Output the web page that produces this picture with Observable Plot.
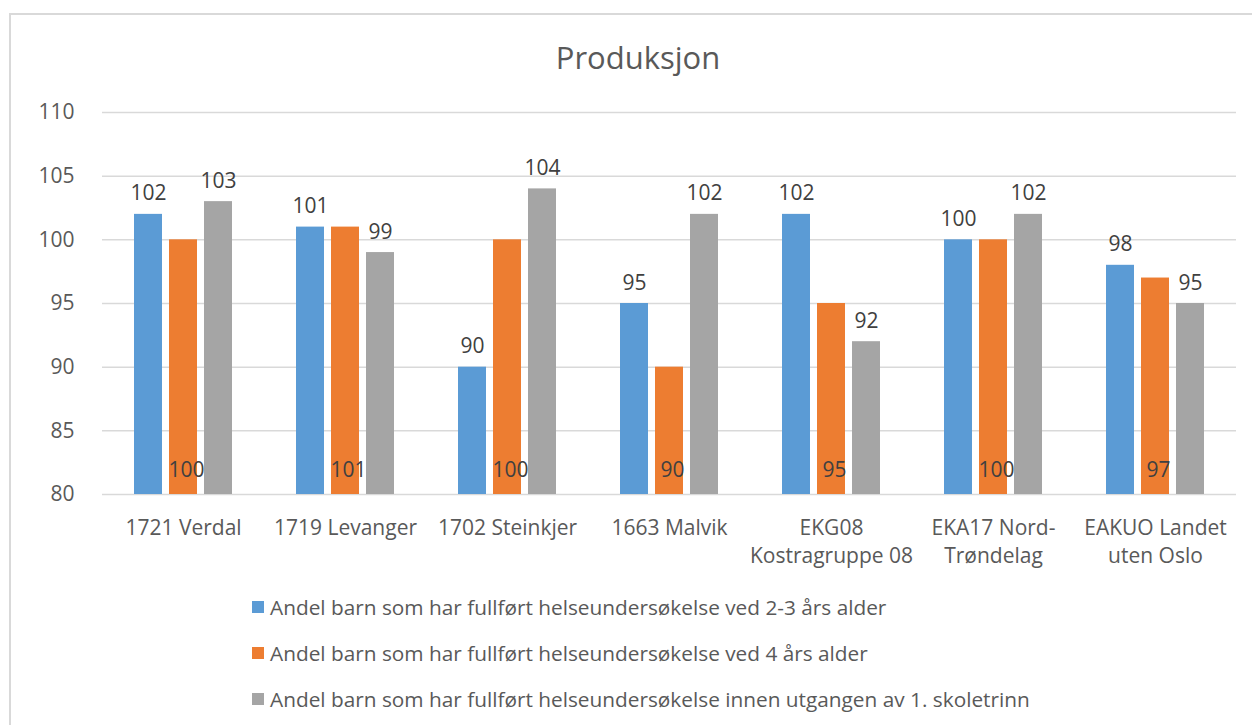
<!DOCTYPE html>
<html>
<head>
<meta charset="utf-8">
<script src="https://cdn.jsdelivr.net/npm/d3@7"></script>
<script src="https://cdn.jsdelivr.net/npm/@observablehq/plot@0.6"></script>
<style>
  body { margin: 0; background: #fff; font-family: "Open Sans", sans-serif; }
  #frame { position: absolute; left: 9px; top: 13px; width: 1300px; height: 800px;
           border-left: 2px solid #d9d9d9; border-top: 2px solid #d9d9d9; }
  #title { position: absolute; left: 0; width: 1276px; top: 36px; text-align: center;
           font-size: 31px; color: #595959; line-height: 42px; }
  #chart { position: absolute; left: 0; top: 0; }
  #legend { position: absolute; left: 252px; top: 584px; color: #595959; font-size: 20.8px; }
  .row { display: flex; align-items: center; height: 46px; margin-top: 0; }
  .sw { width: 12px; height: 12px; margin-right: 6px; flex: none; }
</style>
</head>
<body>
<div id="frame"></div>
<div id="title">Produksjon</div>
<div id="chart"></div>
<div id="legend"></div>
<script>
const categories = ["1721 Verdal", "1719 Levanger", "1702 Steinkjer", "1663 Malvik",
  "EKG08\nKostragruppe 08", "EKA17 Nord-\nTrøndelag", "EAKUO Landet\nuten Oslo"];
const seriesNames = [
  "Andel barn som har fullført helseundersøkelse ved 2-3 års alder",
  "Andel barn som har fullført helseundersøkelse ved 4 års alder",
  "Andel barn som har fullført helseundersøkelse innen utgangen av 1. skoletrinn"
];
const valuesAge23 = [102, 101, 90, 95, 102, 100, 98];
const valuesAge4 = [100, 101, 100, 90, 95, 100, 97];
const valuesSchool = [103, 99, 104, 102, 92, 102, 95];
const colors = ["#5b9bd5", "#ed7d31", "#a5a5a5"];
const yTicks = [80, 85, 90, 95, 100, 105, 110];

const allSeries = [valuesAge23, valuesAge4, valuesSchool];
const table = [];
categories.forEach((c, i) => {
  allSeries.forEach((vals, s) => table.push({cat: c, series: seriesNames[s], value: vals[i]}));
});
const above = table.filter(d => d.series !== seriesNames[1]);
const base = table.filter(d => d.series === seriesNames[1]);

const chart = Plot.plot({
  width: 1252,
  height: 570,
  marginTop: 112,
  marginBottom: 76,
  marginLeft: 101,
  marginRight: 15,
  style: {fontFamily: "Open Sans, sans-serif", fontSize: "18px", color: "#595959", background: "transparent"},
  fx: {domain: categories, padding: 0, label: null},
  x: {domain: seriesNames, paddingInner: 0.19, paddingOuter: 0.85, axis: null},
  y: {domain: [80, 110], label: null},
  color: {domain: seriesNames, range: colors},
  marks: [
    Plot.gridY(yTicks, {stroke: "#d9d9d9", strokeOpacity: 1, strokeWidth: 1.5}),
    Plot.axisY({ticks: yTicks, tickSize: 0, tickPadding: 28, fontSize: 21, fill: "#595959", label: null}),
    Plot.axisFx({anchor: "bottom", tickSize: 0, tickPadding: 20, fontSize: 21, fill: "#595959", lineHeight: 1.36, label: null}),
    Plot.barY(table, {fx: "cat", x: "series", y1: 80, y2: "value", fill: "series"}),
    Plot.text(above, {fx: "cat", x: "series", y: "value", text: d => String(d.value),
      lineAnchor: "bottom", dy: -14, fontSize: 21, fill: "#404040"}),
    Plot.text(base, {fx: "cat", x: "series", y: () => 80, text: d => String(d.value),
      dy: -24, dx: 3, fontSize: 21, fill: "#404040"})
  ]
});
document.getElementById("chart").appendChild(chart);

const legend = document.getElementById("legend");
seriesNames.forEach((name, i) => {
  const row = document.createElement("div");
  row.className = "row";
  const sw = document.createElement("div");
  sw.className = "sw";
  sw.style.background = colors[i];
  const label = document.createElement("span");
  label.textContent = name;
  row.appendChild(sw);
  row.appendChild(label);
  legend.appendChild(row);
});
</script>
</body>
</html>
